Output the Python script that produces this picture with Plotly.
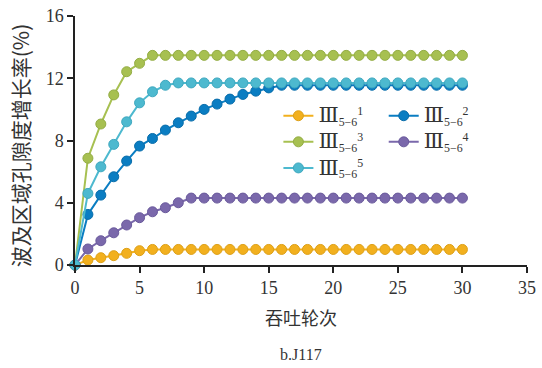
import plotly.graph_objects as go

rounds = list(range(0, 31))
s1 = [0, 0.32, 0.47, 0.60, 0.75, 0.92, 1.0] + [1.0] * 24
s2 = [0, 3.25, 4.49, 5.67, 6.68, 7.64, 8.13, 8.67, 9.14, 9.57, 10.0, 10.34, 10.66, 10.96, 11.17, 11.38] + [11.55] * 15
s3 = [0, 6.86, 9.06, 10.93, 12.42, 12.96] + [13.47] * 25
s4 = [0, 1.03, 1.56, 2.07, 2.57, 3.04, 3.42, 3.68, 4.0, 4.3] + [4.3] * 21
s5 = [0, 4.6, 6.31, 7.75, 9.2, 10.42, 11.13, 11.55] + [11.7] * 23

roman = "<span style='font-size:21px'>Ⅲ</span>"
names = [roman + "<sub>5−6</sub><sup>%d</sup>" % k for k in range(1, 6)]
colors = ["#F2B01E", "#0A7DC2", "#A7C051", "#7A68AB", "#4DB9CF"]
edges = ["#DDA018", "#096DAA", "#94AD45", "#6A5A9C", "#3FA8BF"]
legends = ["legend", "legend2", "legend", "legend2", "legend"]
series = [s1, s2, s3, s4, s5]
xticks = [0, 5, 10, 15, 20, 25, 30, 35]
yticks = [0, 4, 8, 12, 16]

fig = go.Figure()
for i, (s, n, c, e, lg) in enumerate(zip(series, names, colors, edges, legends)):
    fig.add_trace(go.Scatter(
        x=rounds, y=s, name=n, mode="lines+markers",
        line=dict(color=c, width=2),
        marker=dict(color=c, size=10, line=dict(color=e, width=1)),
        cliponaxis=False, legend=lg, legendgroup="g%d" % i))

font_serif = "'Liberation Serif', 'DejaVu Serif', serif"
tick_font = dict(family=font_serif, size=18, color="#333333")
leg_font = dict(family=font_serif, size=17, color="#333333")

fig.update_layout(
    width=542, height=368,
    font=dict(family=font_serif, color="#333333"),
    margin=dict(l=75, r=15, t=16, b=103, autoexpand=False),
    plot_bgcolor="white", paper_bgcolor="white",
    showlegend=True,
    legend=dict(x=0.45, y=0.67, xanchor="left", yanchor="top",
                bgcolor="rgba(0,0,0,0)", font=leg_font,
                itemwidth=30, tracegroupgap=1),
    legend2=dict(x=0.683, y=0.67, xanchor="left", yanchor="top",
                 bgcolor="rgba(0,0,0,0)", font=leg_font,
                 itemwidth=30, tracegroupgap=1),
    xaxis=dict(range=[0, 35], tickmode="array", tickvals=xticks,
               ticktext=[str(v) for v in xticks],
               showline=True, linecolor="#222222", linewidth=1.5,
               ticks="outside", ticklen=6, tickcolor="#222222", tickwidth=1.5,
               showgrid=False, zeroline=False, tickfont=tick_font, automargin=False),
    yaxis=dict(range=[0, 16], tickmode="array", tickvals=yticks,
               ticktext=[str(v) for v in yticks],
               showline=True, linecolor="#222222", linewidth=1.5,
               ticks="outside", ticklen=6, tickcolor="#222222", tickwidth=1.5,
               showgrid=False, zeroline=False, tickfont=tick_font, automargin=False),
    annotations=[
        dict(text="波及区域孔隙度增长率(%)", xref="paper", yref="paper",
             x=-0.12, y=0.48, xanchor="center", yanchor="middle", textangle=-90,
             showarrow=False, font=dict(family="Noto Sans CJK SC", size=21, color="#333333")),
        dict(text="吞吐轮次", xref="paper", yref="paper",
             x=0.5, y=-0.21, xanchor="center", yanchor="middle",
             showarrow=False, font=dict(family="Noto Sans CJK SC", size=18, color="#333333")),
        dict(text="b.J117", xref="paper", yref="paper",
             x=0.5, y=-0.36, xanchor="center", yanchor="middle",
             showarrow=False, font=dict(family=font_serif, size=16, color="#333333")),
    ],
)

fig.write_html("out.html")
